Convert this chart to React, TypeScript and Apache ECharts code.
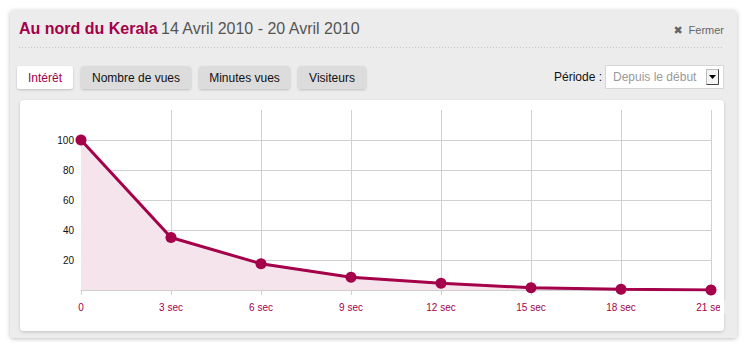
import React, { useEffect, useRef } from "react";
import * as echarts from "echarts";

const seconds = [0, 3, 6, 9, 12, 15, 18, 21];
const interest = [100, 35, 17.5, 8.5, 4.5, 1.5, 0.5, 0];
const yTicks = [0, 20, 40, 60, 80, 100, 120];
const tabs = ["Intérêt", "Nombre de vues", "Minutes vues", "Visiteurs"];
const titleMain = "Au nord du Kerala";
const titleDates = "14 Avril 2010 - 20 Avril 2010";

const CRIMSON = "#a5004a";
const FONT = "'Liberation Sans', Arial, Helvetica, sans-serif";

export default function App() {
  const ref = useRef<HTMLDivElement>(null);
  useEffect(() => {
    if (!ref.current) return;
    const chart = echarts.init(ref.current, null, { renderer: "svg" });
    const tabBoxes = [
      { x: 17, w: 56 },
      { x: 81, w: 110 },
      { x: 199, w: 91 },
      { x: 298, w: 68 },
    ];
    const graphics: any[] = [
      {
        type: "rect",
        shape: { x: 10, y: 10, width: 727, height: 328, r: 4 },
        style: { fill: "#ececec", shadowBlur: 4, shadowColor: "rgba(0,0,0,0.25)", shadowOffsetY: 1 },
        z: -10,
        silent: true,
      },
      {
        type: "text",
        x: 19,
        y: 28,
        style: {
          text: `{a|${titleMain}} {b|${titleDates}}`,
          verticalAlign: "middle",
          rich: {
            a: { fontFamily: FONT, fontSize: 16, fontWeight: "bold", fill: CRIMSON },
            b: { fontFamily: FONT, fontSize: 16, fill: "#555" },
          },
        },
        z: 10,
      },
      {
        type: "line",
        shape: { x1: 19, y1: 47.5, x2: 724, y2: 47.5 },
        style: { stroke: "#c4c4c4", lineWidth: 1, lineDash: [1, 2] },
        z: 10,
      },
      {
        type: "text",
        x: 678,
        y: 30.5,
        style: { text: "✖", fontFamily: "DejaVu Sans", fontSize: 11, fill: "#666", align: "center", verticalAlign: "middle" },
        z: 10,
      },
      {
        type: "text",
        x: 724,
        y: 30,
        style: { text: "Fermer", fontFamily: FONT, fontSize: 11, fill: "#666", align: "right", verticalAlign: "middle" },
        z: 10,
      },
      {
        type: "text",
        x: 602,
        y: 77,
        style: { text: "Période :", fontFamily: FONT, fontSize: 12, fill: "#111", align: "right", verticalAlign: "middle" },
        z: 10,
      },
      {
        type: "rect",
        shape: { x: 605.5, y: 65.5, width: 118, height: 23 },
        style: { fill: "#fff", stroke: "#d6d6d6", lineWidth: 1 },
        z: 10,
      },
      {
        type: "text",
        x: 613,
        y: 77,
        style: { text: "Depuis le début", fontFamily: FONT, fontSize: 12, fill: "#999", verticalAlign: "middle" },
        z: 11,
      },
      {
        type: "rect",
        shape: { x: 706.5, y: 69.5, width: 12, height: 15 },
        style: { fill: "#f4f4f4", stroke: "#bbb", lineWidth: 1 },
        z: 11,
      },
      {
        type: "polyline",
        shape: { points: [[718.5, 69.5], [718.5, 84.5], [706.5, 84.5]] },
        style: { stroke: "#444", lineWidth: 1, fill: null },
        z: 12,
      },
      {
        type: "polygon",
        shape: { points: [[709, 75], [716, 75], [712.5, 79]] },
        style: { fill: "#000" },
        z: 12,
      },
      {
        type: "rect",
        shape: { x: 20, y: 100, width: 704, height: 231, r: 4 },
        style: { fill: "#fff", shadowBlur: 3, shadowColor: "rgba(0,0,0,0.18)", shadowOffsetY: 1 },
        z: -5,
        silent: true,
      },
      {
        type: "rect",
        shape: { x: 720, y: 300, width: 4, height: 14 },
        style: { fill: "#fff" },
        z: 100,
      },
      {
        type: "rect",
        shape: { x: 724, y: 300, width: 8, height: 14 },
        style: { fill: "#ececec" },
        z: 100,
      },
    ];
    tabs.forEach((t, i) => {
      const b = tabBoxes[i];
      const active = i === 0;
      graphics.push({
        type: "rect",
        shape: { x: b.x, y: 66, width: b.w, height: 23, r: 3 },
        style: {
          fill: active ? "#fff" : "#dcdcdc",
          shadowBlur: 2,
          shadowColor: "rgba(0,0,0,0.2)",
          shadowOffsetY: 1,
        },
        z: 10,
      });
      graphics.push({
        type: "text",
        x: b.x + b.w / 2,
        y: 77.5,
        style: {
          text: t,
          fontFamily: FONT,
          fontSize: 12,
          fill: active ? CRIMSON : "#111",
          align: "center",
          verticalAlign: "middle",
        },
        z: 11,
      });
    });

    const ySplitColors = yTicks.map((v) => (v === 0 || v === 120 ? "rgba(0,0,0,0)" : "#d0d0d0"));
    const xSplitColors = seconds.map((v) => (v === 0 ? "rgba(0,0,0,0)" : "#d0d0d0"));

    chart.setOption({
      animation: false,
      backgroundColor: "#fff",
      graphic: graphics,
      grid: { left: 81, right: 33, top: 110, bottom: 57 },
      xAxis: {
        type: "value",
        min: 0,
        max: 21,
        interval: 3,
        axisLine: { show: true, lineStyle: { color: "#cfcfcf", width: 1 } },
        axisTick: { show: true, length: 5, lineStyle: { color: "#cfcfcf" } },
        axisLabel: {
          color: CRIMSON,
          fontFamily: FONT,
          fontSize: 10,
          margin: 12,
          formatter: (v: number) => (v === 0 ? "0" : `${v} sec`),
        },
        splitLine: { show: true, lineStyle: { color: xSplitColors, width: 1 } },
      },
      yAxis: {
        type: "value",
        min: 0,
        max: 120,
        interval: 20,
        axisLine: { show: false },
        axisTick: { show: false },
        axisLabel: {
          color: "#111",
          fontFamily: FONT,
          fontSize: 10,
          margin: 7,
          formatter: (v: number) => (v === 0 || v === 120 ? "" : String(v)),
        },
        splitLine: { show: true, lineStyle: { color: ySplitColors, width: 1 } },
      },
      series: [
        {
          type: "line",
          data: seconds.map((s, i) => [s, interest[i]]),
          symbol: "circle",
          symbolSize: 11,
          itemStyle: { color: CRIMSON },
          lineStyle: { color: CRIMSON, width: 3 },
          areaStyle: { color: "#f6e4ec", opacity: 1 },
          z: 5,
        },
      ],
    });
    return () => chart.dispose();
  }, []);
  return (
    <div
      ref={ref}
      style={{ position: "fixed", left: 0, top: 0, width: 744, height: 347, background: "#fff" }}
    />
  );
}
